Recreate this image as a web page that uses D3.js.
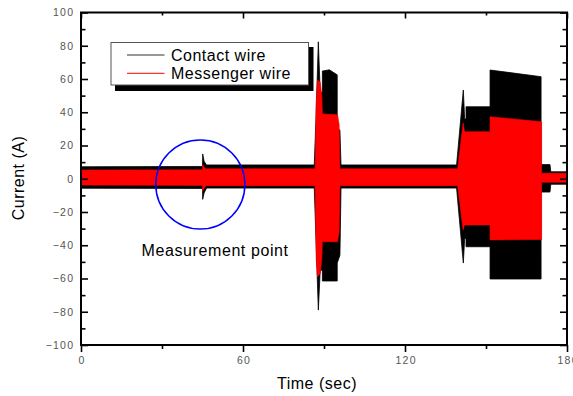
<!DOCTYPE html>
<html><head><meta charset="utf-8">
<script src="https://cdn.jsdelivr.net/npm/d3@7"></script>
<style>body{margin:0;background:#fff}svg{display:block}</style>
</head><body>
<svg id="c" width="573" height="396"></svg>
<script>
// Envelope of the measured currents (time in s, current in A)
const contactT  = [0, 45.0, 45.07, 45.6, 46.5, 86.4, 87.0, 87.9, 88.6, 89.4, 89.4, 92.0, 94.9, 94.9, 95.9, 96.3, 139.1, 141.6, 142.1, 142.6, 142.6, 151.5, 151.5, 170.4, 170.4, 173.7, 174.0, 180];
const contactHi = [7.2, 7.4, 14.9, 10.5, 8.3, 8.3, 35, 82.4, 52, 52, 64.8, 65.5, 62.5, 31.3, 29, 8.3, 8.3, 53.4, 36, 36, 43.3, 43.3, 65.4, 61.4, 8.5, 8.5, 4.2, 4.2];
const contactLo = [-5.7, -5.8, -12.4, -8.5, -5.6, -5.6, -35, -79, -55, -55, -61.5, -61.5, -61.5, -50.7, -46, -5.6, -5.6, -50.7, -36, -36, -40.9, -40.9, -60.3, -60.3, -8, -8, -3.3, -3.3];

const messengerT  = [0, 45.0, 45.07, 45.8, 46.5, 86.7, 87.1, 87.6, 88.6, 89.2, 89.4, 95.0, 95.6, 95.9, 139.5, 141.5, 142.0, 142.2, 151.5, 151.5, 170.6, 170.6, 180];
const messengerHi = [5.2, 5.4, 8.5, 6.5, 6.0, 6.0, 45, 59.4, 58, 50, 39, 38.5, 33, 6.0, 6.0, 33.5, 29, 28.3, 28.3, 37.3, 34.3, 3.3, 3.3];
const messengerLo = [-3.8, -4.0, -7.5, -5, -4.2, -4.2, -48, -59, -57, -48, -37.9, -37.9, -32, -4.2, -4.2, -30.8, -28, -27.8, -27.8, -36.8, -36.5, -2.1, -2.1];

const seriesNames = ["Contact wire", "Messenger wire"];
const xTicks = [0, 60, 120, 180];
const xMinor = [30, 90, 150];
const yTicks = [-100, -80, -60, -40, -20, 0, 20, 40, 60, 80, 100];
const yMinor = [-90, -70, -50, -30, -10, 10, 30, 50, 70, 90];
const markCenter = [44.2, -3.5];   // time, current
const markRadius = 16.5;            // seconds
const markLabel = "Measurement point";

const svg = d3.select("#c");
const L = 81, R = 567, T = 12.5, B = 345;
const x = d3.scaleLinear().domain([0, 180]).range([L, R]);
const y = d3.scaleLinear().domain([-100, 100]).range([B, T]);

svg.append("defs").append("clipPath").attr("id", "pc")
  .append("rect").attr("x", L).attr("y", T).attr("width", R - L).attr("height", B - T);

const g = svg.append("g").attr("clip-path", "url(#pc)");
const area = d3.area().x(d => x(d[0])).y0(d => y(d[2])).y1(d => y(d[1]));
const cData = contactT.map((t, i) => [t, contactHi[i], contactLo[i]]);
const mData = messengerT.map((t, i) => [t, messengerHi[i], messengerLo[i]]);
g.append("path").attr("d", area(cData)).attr("fill", "#000").attr("stroke", "#000").attr("stroke-width", 0.8);
g.append("path").attr("d", area(mData)).attr("fill", "#ff0000").attr("stroke", "#ff0000").attr("stroke-width", 0.6);

// annotation circle
svg.append("circle")
  .attr("cx", x(markCenter[0])).attr("cy", y(markCenter[1]))
  .attr("r", x(markRadius) - x(0))
  .attr("fill", "none").attr("stroke", "#0000ff").attr("stroke-width", 1.5);
svg.append("text").attr("x", 141.5).attr("y", 256)
  .attr("font-family", "Liberation Sans, Arial, sans-serif").attr("font-size", 16)
  .attr("letter-spacing", 0.6).attr("fill", "#000").text(markLabel);

// axes
const tickFont = g2 => g2.selectAll("text")
  .attr("font-family", "Liberation Sans, Arial, sans-serif")
  .attr("font-size", 10.5).attr("letter-spacing", 1.2).attr("fill", "#555");

const ax = svg.append("g");
const left = ax.append("g").attr("transform", `translate(${L},0)`)
  .call(d3.axisLeft(y).tickValues(yTicks).tickSizeInner(-7).tickSizeOuter(0).tickPadding(8));
left.selectAll("text").attr("dx", 1.2);
left.call(tickFont);
ax.append("g").attr("transform", `translate(${L},0)`)
  .call(d3.axisLeft(y).tickValues(yMinor).tickSizeInner(-4.5).tickSizeOuter(0).tickFormat(""));
ax.append("g").attr("transform", `translate(${R},0)`)
  .call(d3.axisRight(y).tickValues(yTicks).tickSizeInner(-7).tickSizeOuter(0).tickFormat(""));
ax.append("g").attr("transform", `translate(${R},0)`)
  .call(d3.axisRight(y).tickValues(yMinor).tickSizeInner(-4.5).tickSizeOuter(0).tickFormat(""));
const bottom = ax.append("g").attr("transform", `translate(0,${B})`)
  .call(d3.axisBottom(x).tickValues(xTicks).tickSizeInner(7).tickSizeOuter(0).tickPadding(5));
bottom.selectAll("text").attr("dx", 0.6);
bottom.call(tickFont);
ax.append("g").attr("transform", `translate(0,${B})`)
  .call(d3.axisBottom(x).tickValues(xMinor).tickSizeInner(4).tickSizeOuter(0).tickFormat(""));
ax.append("g").attr("transform", `translate(0,${T})`)
  .call(d3.axisTop(x).tickValues(xTicks).tickSizeInner(-6).tickSizeOuter(0).tickFormat(""));
ax.append("g").attr("transform", `translate(0,${T})`)
  .call(d3.axisTop(x).tickValues(xMinor).tickSizeInner(-3).tickSizeOuter(0).tickFormat(""));
ax.selectAll(".domain").remove();
ax.selectAll(".tick line").attr("stroke", "#000").attr("stroke-width", 1.6);

svg.append("rect").attr("x", L).attr("y", T).attr("width", R - L).attr("height", B - T)
  .attr("fill", "none").attr("stroke", "#000").attr("stroke-width", 2);

// axis titles
svg.append("text").attr("x", 317).attr("y", 389).attr("text-anchor", "middle")
  .attr("font-family", "Liberation Sans, Arial, sans-serif").attr("font-size", 16)
  .attr("letter-spacing", 0.5).text("Time (sec)");
svg.append("text").attr("transform", "translate(24,178) rotate(-90)").attr("text-anchor", "middle")
  .attr("font-family", "Liberation Sans, Arial, sans-serif").attr("font-size", 16)
  .attr("letter-spacing", 0.5).text("Current (A)");

// legend
const lg = svg.append("g");
lg.append("rect").attr("x", 115).attr("y", 47).attr("width", 198.5).attr("height", 44).attr("fill", "#000");
lg.append("rect").attr("x", 111).attr("y", 42.5).attr("width", 197.5).attr("height", 42.5)
  .attr("fill", "#fff").attr("stroke", "#555").attr("stroke-width", 1);
const legColors = ["#333", "#ff0000"];
seriesNames.forEach((n, i) => {
  const yy = 55 + i * 18.3;
  lg.append("line").attr("x1", 127).attr("x2", 164.5).attr("y1", yy).attr("y2", yy)
    .attr("stroke", legColors[i]).attr("stroke-width", 1);
  lg.append("text").attr("x", 171).attr("y", yy + 5.5)
    .attr("font-family", "Liberation Sans, Arial, sans-serif").attr("font-size", 16)
    .attr("letter-spacing", 0.5).attr("fill", "#000").text(n);
});
</script>
</body></html>
